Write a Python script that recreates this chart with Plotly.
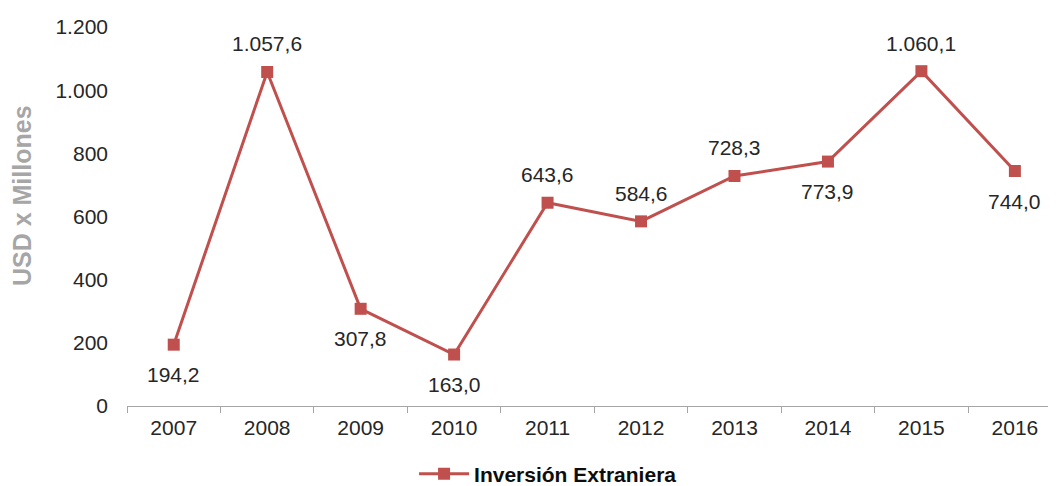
import plotly.graph_objects as go

years = ["2007", "2008", "2009", "2010", "2011", "2012", "2013", "2014", "2015", "2016"]
values = [194.2, 1057.6, 307.8, 163.0, 643.6, 584.6, 728.3, 773.9, 1060.1, 744.0]
label_side = ["below", "above", "below", "below", "above", "above", "above", "below", "above", "below"]
series_name = "Inversión Extraniera"
y_title = "USD x Millones"
y_ticks = [0, 200, 400, 600, 800, 1000, 1200]

RED = "#C0504D"
FONT = "Liberation Sans, Arial, sans-serif"


def es_fmt(v):
    s = f"{v:,.1f}"
    return s.replace(",", "X").replace(".", ",").replace("X", ".")


fig = go.Figure()
fig.add_trace(go.Scatter(
    x=years, y=values, mode="lines+markers", name=series_name,
    line=dict(color=RED, width=3),
    marker=dict(symbol="square", size=12, color=RED),
))

annotations = []
for i, (v, side) in enumerate(zip(values, label_side)):
    annotations.append(dict(
        x=i, y=v, xref="x", yref="y", text=es_fmt(v), showarrow=False,
        yshift=28 if side == "above" else -30,
        font=dict(family=FONT, size=21, color="#262626"),
    ))
annotations.append(dict(
    x=-0.113, y=0.554, xref="paper", yref="paper", text="<b>" + y_title + "</b>",
    textangle=-90, showarrow=False, xanchor="center", yanchor="middle",
    font=dict(family=FONT, size=25, color="#A6A6A6"),
))

fig.update_layout(
    width=1048, height=478,
    margin=dict(l=119, r=0, t=19, b=80, autoexpand=False),
    paper_bgcolor="white", plot_bgcolor="white",
    separators=",.",
    font=dict(family=FONT, size=21, color="#262626"),
    showlegend=True,
    legend=dict(
        orientation="h", x=0.309, xanchor="left", y=-0.18, yanchor="middle",
        font=dict(family=FONT, size=21, color="#0d0d0d", weight="bold"),
        itemwidth=50, bgcolor="rgba(0,0,0,0)",
    ),
    annotations=annotations,
)
fig.update_xaxes(
    type="category", range=[-0.5, 9.44], automargin=False,
    showline=True, linecolor="#A6A6A6", linewidth=1,
    ticks="outside", tickson="boundaries", ticklen=6, tickcolor="#A6A6A6",
    showgrid=False, zeroline=False,
    tickfont=dict(family=FONT, size=21, color="#262626"),
    ticklabelstandoff=3,
)
fig.update_yaxes(
    range=[0, 1200], tickvals=y_ticks, tickformat=",d", automargin=False,
    showline=False, showgrid=False, zeroline=False, ticks="",
    ticklabelstandoff=18,
    tickfont=dict(family=FONT, size=21, color="#262626"),
)

fig.write_html("out.html")
